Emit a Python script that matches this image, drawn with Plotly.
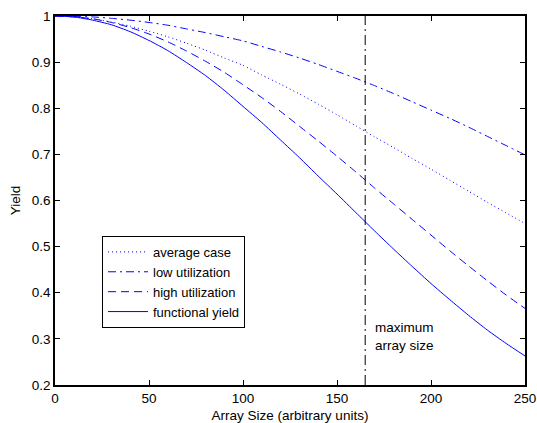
import plotly.graph_objects as go

x_vals = [0, 10, 20, 30, 40, 50, 60, 70, 80, 90, 100, 110, 120, 130, 140, 150,
          160, 170, 180, 190, 200, 210, 220, 230, 240, 250]

average_case = [1.000, 0.998, 0.994, 0.987, 0.978, 0.967, 0.955, 0.941, 0.926, 0.909,
                0.893, 0.872, 0.852, 0.831, 0.809, 0.786, 0.762, 0.738, 0.715, 0.691,
                0.668, 0.644, 0.620, 0.596, 0.573, 0.550]
low_utilization = [1.000, 0.999, 0.998, 0.995, 0.991, 0.986, 0.980, 0.972, 0.964, 0.955,
                   0.946, 0.934, 0.922, 0.909, 0.895, 0.880, 0.865, 0.849, 0.832, 0.814,
                   0.796, 0.778, 0.759, 0.739, 0.719, 0.699]
high_utilization = [1.000, 0.998, 0.994, 0.986, 0.975, 0.961, 0.944, 0.924, 0.902, 0.878,
                    0.851, 0.823, 0.793, 0.761, 0.729, 0.696, 0.662, 0.627, 0.593, 0.559,
                    0.525, 0.491, 0.458, 0.426, 0.395, 0.366]
functional_yield = [1.000, 0.998, 0.991, 0.981, 0.966, 0.947, 0.925, 0.899, 0.871, 0.839,
                    0.804, 0.769, 0.731, 0.693, 0.653, 0.614, 0.574, 0.534, 0.495, 0.457,
                    0.420, 0.385, 0.351, 0.319, 0.290, 0.263]

max_array_size = 165
x_ticks = [0, 50, 100, 150, 200, 250]
y_ticks = [0.2, 0.3, 0.4, 0.5, 0.6, 0.7, 0.8, 0.9, 1]
y_tick_text = ["0.2", "0.3", "0.4", "0.5", "0.6", "0.7", "0.8", "0.9", "1"]

BLUE = "rgb(0,0,255)"
FONT = "Liberation Sans, Arial, sans-serif"
FS = 13.5

fig = go.Figure()
series = [
    ("average case", average_case, "1px,3px"),
    ("low utilization", low_utilization, "8px,4px,2px,4px"),
    ("high utilization", high_utilization, "8px,5px"),
    ("functional yield", functional_yield, "solid"),
]
for name, ys, dash in series:
    fig.add_trace(go.Scatter(x=x_vals, y=ys, mode="lines", name=name,
                             line=dict(color=BLUE, width=1, dash=dash, shape="spline",
                                       smoothing=0.6)))

fig.add_trace(go.Scatter(x=[max_array_size, max_array_size], y=[0.2, 1.0], mode="lines",
                         showlegend=False, line=dict(color="black", width=1,
                                                     dash="10px,4px,2px,4px")))

fig.add_annotation(x=max_array_size + 4, y=0.306, xref="x", yref="y",
                   text="maximum<br>array size", showarrow=False, xanchor="left",
                   yanchor="middle", align="left",
                   font=dict(family=FONT, size=FS, color="black"))

axis_common = dict(showline=True, linecolor="black", linewidth=1.5, mirror="allticks",
                   ticks="inside", ticklen=5, tickcolor="black", tickwidth=1,
                   showgrid=False, zeroline=False, automargin=False,
                   tickfont=dict(family=FONT, size=FS, color="black"))

fig.update_layout(
    width=537, height=423,
    margin=dict(l=55, r=12, t=16, b=38),
    paper_bgcolor="white", plot_bgcolor="white",
    font=dict(family=FONT, size=FS, color="black"),
    xaxis=dict(range=[0, 250], tickvals=x_ticks,
               title=dict(text="Array Size (arbitrary units)",
                          font=dict(family=FONT, size=FS)), **axis_common),
    yaxis=dict(range=[0.2, 1.0], tickvals=y_ticks, ticktext=y_tick_text,
               title=dict(text="Yield", standoff=8, font=dict(family=FONT, size=FS)),
               **axis_common),
    legend=dict(x=0.1, y=0.404, xanchor="left", yanchor="top", bordercolor="black",
                borderwidth=1, bgcolor="white", font=dict(family=FONT, size=13),
                tracegroupgap=0, itemwidth=40),
    showlegend=True,
)

fig.write_html("out.html")
